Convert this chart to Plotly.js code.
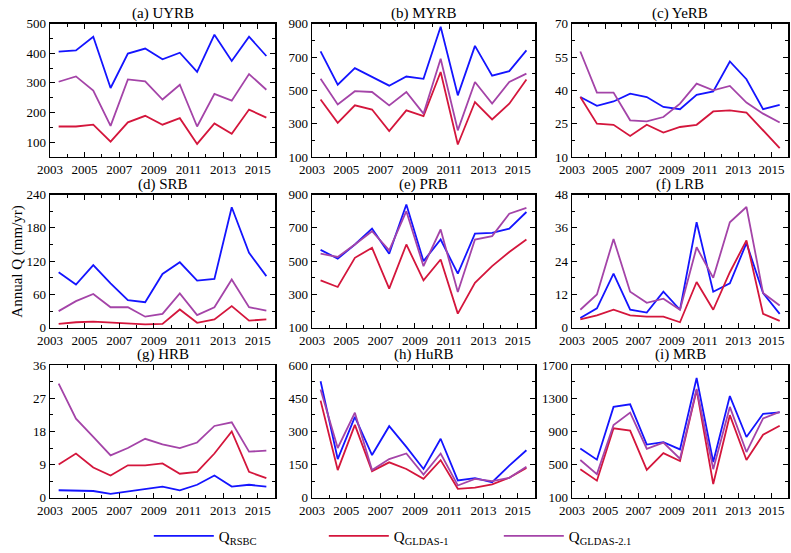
<!DOCTYPE html>
<html><head><meta charset="utf-8">
<script src="https://cdn.plot.ly/plotly-3.0.1.min.js"></script>
<style>html,body{margin:0;padding:0;background:#fff}#c{width:791px;height:553px}</style>
</head><body><div id="c"></div>
<script>
const years = [2003.5,2004.5,2005.5,2006.5,2007.5,2008.5,2009.5,2010.5,2011.5,2012.5,2013.5,2014.5,2015.5];
const panelTitles = ['(a) UYRB','(b) MYRB','(c) YeRB','(d) SRB','(e) PRB','(f) LRB','(g) HRB','(h) HuRB','(i) MRB'];
const seriesNames = ['Q<sub>RSBC</sub>','Q<sub>GLDAS-1</sub>','Q<sub>GLDAS-2.1</sub>'];
const xTickYears = [2003,2005,2007,2009,2011,2013,2015];

// Q_RSBC
const rsbc_a = [406,410,456,283,399,416,380,402,337,463,374,456,391];
const rsbc_b = [734,534,633,579,528,583,569,882,470,767,588,615,740];
const rsbc_c = [37,33,35,38.5,37,32.5,31.5,38,39.5,53,45,31.5,33.5];
const rsbc_d = [100,78,113,80,50,46,97,118,85,88,217,135,93];
const rsbc_e = [568,515,600,695,545,840,500,630,425,665,670,695,795];
const rsbc_f = [3.5,7,19.5,6.5,5.5,13,6.5,38,13,16,30.5,12.5,5];
const rsbc_g = [2,2,1.8,1,1.6,2.3,3,2,3.5,6,3,3.5,3];
const rsbc_h = [528,175,366,193,324,230,130,267,78,88,70,145,215];
const rsbc_i = [694,559,1197,1228,741,770,683,1546,531,1328,833,1114,1130];

// Q_GLDAS-1
const g1_a = [153,153,159,102,167,189,159,181,94,163,128,210,183];
const g1_b = [445,305,410,385,255,380,345,610,175,430,325,420,565];
const g1_c = [37,25,24.5,19.5,24.5,21,23.5,24.5,30.5,31,30,22,14];
const g1_d = [7,10,11,9,8,6,7,33,9,15,39,13,15];
const g1_e = [385,345,520,580,335,600,385,510,185,370,470,555,630];
const g1_f = [3,4.5,6.5,4.5,4,4,2,16.5,6.5,20,31.5,5,2.5];
const g1_g = [9,12,8.2,6,8.8,8.8,9.3,6.5,7,12,18,7,5.3];
const g1_h = [440,125,330,120,160,130,85,170,40,45,60,90,135];
const g1_i = [444,305,939,911,436,638,543,1402,265,1097,555,860,970];

// Q_GLDAS-2.1
const g21_a = [304,322,274,155,312,305,244,294,153,263,240,330,277];
const g21_b = [570,415,495,490,410,490,360,690,260,550,420,550,600];
const g21_c = [57.5,39,39,26.5,26,28,34,43,40,42,34.5,29.5,25.5];
const g21_d = [30,48,61,37,37,20,25,62,23,37,87,37,31];
const g21_e = [545,525,600,680,565,800,470,690,315,630,650,785,820];
const g21_f = [6.5,12,32,13,9,10.5,6.5,29,18,38,43.5,12.5,8];
const g21_g = [31,21.5,16.5,11.5,13.5,16,14.5,13.5,15,19.5,20.5,12.5,12.8];
const g21_h = [490,225,385,125,175,200,105,200,55,85,75,90,140];
const g21_i = [555,384,978,1129,691,766,570,1414,444,1197,651,1058,1137];

const rsbc = [rsbc_a,rsbc_b,rsbc_c,rsbc_d,rsbc_e,rsbc_f,rsbc_g,rsbc_h,rsbc_i];
const g1 = [g1_a,g1_b,g1_c,g1_d,g1_e,g1_f,g1_g,g1_h,g1_i];
const g21 = [g21_a,g21_b,g21_c,g21_d,g21_e,g21_f,g21_g,g21_h,g21_i];

const yRanges = [[50,500],[100,900],[10,70],[0,240],[100,900],[0,48],[0,36],[0,600],[100,1700]];
const yDticks = [100,200,15,60,200,12,9,150,400];

const colors = ['#1414ff','#d4163c','#a444a8'];
const W = 791, H = 553;
const colPx = [[50,275],[312,535],[572,788]];
const rowPx = [[24,159],[197,332],[370,504]];
const font = 'Liberation Serif, Times New Roman, serif';

const data = [];
const layout = {
  width: W, height: H,
  margin: {l:0,r:0,t:0,b:0},
  paper_bgcolor:'#fff', plot_bgcolor:'#fff',
  font: {family: font, color:'#000', size: 13},
  showlegend: true,
  legend: {orientation:'h', x:0.52, xanchor:'center', y:1-543/H, yanchor:'middle',
           font:{family:font, size:15, color:'#000'}, entrywidth:100, itemwidth:60, bgcolor:'rgba(0,0,0,0)'},
  annotations: [],
};

for (let k=0;k<9;k++){
  const r = Math.floor(k/3), c = k%3;
  const sfx = k===0 ? '' : String(k+1);
  const xa = 'x'+sfx, ya = 'y'+sfx;
  const sets = [rsbc[k], g1[k], g21[k]];
  for (let s=0;s<3;s++){
    data.push({x: years, y: sets[s], xaxis: xa, yaxis: ya, type:'scatter', mode:'lines',
      line:{color:colors[s], width:1.8}, name: seriesNames[s], showlegend: k===0,
      hoverinfo:'skip'});
  }
  layout['xaxis'+sfx] = {
    domain:[colPx[c][0]/W, colPx[c][1]/W], anchor: ya, range:[2003,2016],
    tickvals: xTickYears, ticktext: xTickYears.map(String),
    ticks:'inside', ticklen:5, tickwidth:1, tickcolor:'#000',
    minor:{ticks:'inside', ticklen:3, tickvals:[2004,2006,2008,2010,2012,2014,2016], tickcolor:'#000'},
    showline:true, linecolor:'#000', linewidth:1.5, mirror:'ticks', showgrid:false, zeroline:false,
    tickfont:{family:font, size:13}, fixedrange:true
  };
  const yr = yRanges[k], dt = yDticks[k];
  layout['yaxis'+sfx] = {
    domain:[1-rowPx[r][1]/H, 1-rowPx[r][0]/H], anchor: xa, range: yr,
    tick0: yr[0] === 50 ? 100 : yr[0], dtick: dt,
    ticks:'inside', ticklen:5, tickwidth:1, tickcolor:'#000',
    minor:{ticks:'inside', ticklen:3, dtick: dt/2, tick0: yr[0] === 50 ? 50 : yr[0], tickcolor:'#000'},
    showline:true, linecolor:'#000', linewidth:1.5, mirror:'ticks', showgrid:false, zeroline:false,
    tickfont:{family:font, size:13}, fixedrange:true
  };
  layout.annotations.push({text: panelTitles[k], xref:'paper', yref:'paper',
    x:(colPx[c][0]+colPx[c][1])/2/W, y:1-rowPx[r][0]/H, yanchor:'bottom', xanchor:'center',
    showarrow:false, font:{family:font, size:15, color:'#000'}, yshift:0});
}
layout.annotations.push({text:'Annual Q (mm/yr)', xref:'paper', yref:'paper', x:18/W, y:1-265/H,
  textangle:-90, showarrow:false, xanchor:'center', yanchor:'middle', font:{family:font, size:15, color:'#000'}});

Plotly.newPlot('c', data, layout, {displayModeBar:false, staticPlot:true});
</script></body></html>
